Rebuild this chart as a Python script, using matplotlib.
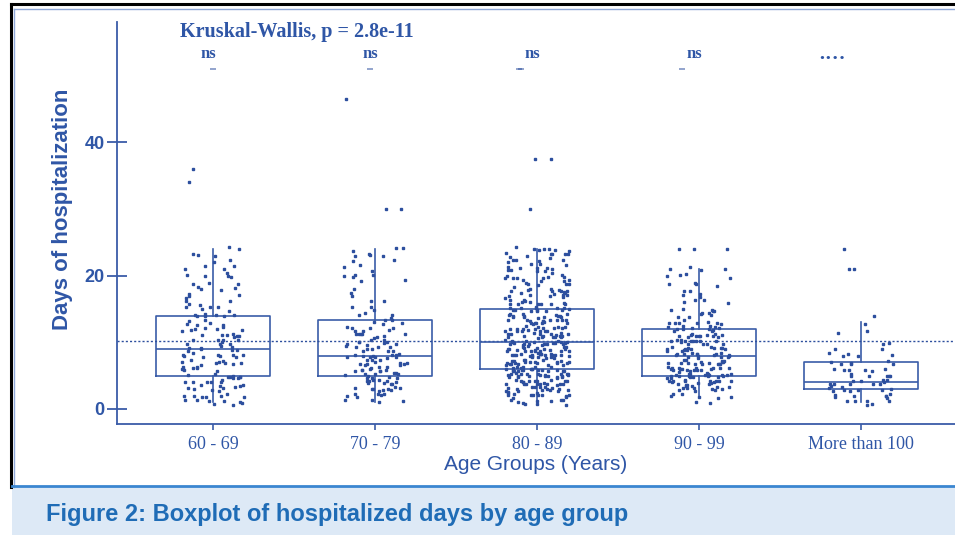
import matplotlib
matplotlib.use("Agg")
import matplotlib.pyplot as plt
import numpy as np
from matplotlib.patches import Rectangle
from matplotlib.lines import Line2D

# --- data ---
groups = ["60 - 69", "70 - 79", "80 - 89", "90 - 99", "More than 100"]

# box statistics per group
q1 = [5, 5, 6, 5, 3]
median = [9, 8, 10, 8, 4]
q3 = [14, 13.3, 15, 12, 7]
whisker_lo = [1, 1, 1, 2, 1]
whisker_hi = [24, 24, 24, 21, 13]

# values beyond the whiskers (shown among the jittered points)
outliers = [
    [34, 36],
    [30, 30, 46.5],
    [30, 37.5, 37.5],
    [24, 24, 24],
    [14, 21, 21, 24],
]
# faint marks cut off just under the significance labels
top_marks = [[51], [51], [51, 51], [51], []]

# jittered observations: counts of patients per number of days (1..24)
days = list(range(1, 25))
counts_60 = [8, 7, 8, 8, 9, 8, 9, 9, 8, 8, 7, 7, 6, 7, 5, 4, 4, 4, 3, 5, 4, 2, 3, 2]
counts_70 = [4, 6, 9, 10, 11, 10, 11, 11, 9, 9, 8, 7, 5, 4, 3, 2, 2, 1, 2, 4, 2, 3, 4, 3]
counts_80 = [10, 12, 16, 20, 22, 22, 22, 22, 20, 20, 18, 18, 16, 14, 14, 12, 10, 10, 9, 9, 9, 8, 8, 7]
counts_90 = [2, 6, 12, 16, 20, 18, 16, 16, 14, 14, 12, 12, 8, 6, 5, 4, 3, 3, 3, 4, 4, 0, 0, 0]
counts_100 = [6, 7, 9, 10, 6, 6, 6, 5, 2, 2, 1, 1, 1, 0, 0, 0, 0, 0, 0, 0, 0, 0, 0, 0]
all_counts = [counts_60, counts_70, counts_80, counts_90, counts_100]

mean_line = 10.2
test_label = "Kruskal-Wallis, p = 2.8e-11"
signif = ["ns", "ns", "ns", "ns", "····"]

blue = "#2d4f9e"
line_blue = "#3a5ca8"
txt_blue = "#2f56a6"

fig = plt.figure(figsize=(9.55, 5.35), dpi=100)
ax = fig.add_axes([0.1225, 0.2075, 0.8775, 0.7515])

stats = []
for i in range(len(groups)):
    stats.append(dict(q1=q1[i], med=median[i], q3=q3[i],
                      whislo=whisker_lo[i], whishi=whisker_hi[i],
                      fliers=[], label=groups[i]))

line_style = dict(color=line_blue, linewidth=1.2)
ax.bxp(stats, positions=range(len(groups)), widths=0.7, showcaps=False,
       showfliers=False, boxprops=line_style, whiskerprops=line_style,
       medianprops=line_style)

rng = np.random.default_rng(7)
for i, counts in enumerate(all_counts):
    ys = np.repeat(days, counts).astype(float)
    ys = ys + rng.uniform(-0.4, 0.4, len(ys))
    ys = np.concatenate([ys, outliers[i]])
    xs = i + rng.uniform(-0.2, 0.2, len(ys))
    ax.plot(xs, ys, "s", ms=2.1, color=blue, mec=blue, zorder=3)
    if top_marks[i]:
        tx = i + rng.uniform(-0.2, 0.05, len(top_marks[i]))
        ax.plot(tx, top_marks[i], "_", ms=4, mew=1.2, color=blue, alpha=0.6)

ax.axhline(mean_line, color=blue, linestyle=(0, (1.5, 1.5)), linewidth=1.0)

ax.set_xlim(-0.593, 4.58)
ax.set_ylim(-2.25, 58)

for s in ["top", "right"]:
    ax.spines[s].set_visible(False)
for s in ["left", "bottom"]:
    ax.spines[s].set_color(line_blue)
    ax.spines[s].set_linewidth(1.3)

ax.set_yticks([0, 20, 40])
ax.tick_params(axis="y", direction="inout", length=14, width=1.3, color=line_blue,
               labelcolor=txt_blue, pad=2)
for lab in ax.get_yticklabels():
    lab.set_fontfamily("Liberation Sans")
    lab.set_fontweight("bold")
    lab.set_fontsize(13)

ax.set_xticks(range(len(groups)))
ax.set_xticklabels(groups, fontfamily="Liberation Serif", fontsize=13)
ax.tick_params(axis="x", direction="out", length=4, width=1.2, color=line_blue,
               labelcolor=txt_blue, pad=5)

ax.set_ylabel("Days of hospitalization", fontfamily="Liberation Sans",
              fontweight="bold", fontsize=16, color=txt_blue)
ax.yaxis.set_label_coords(-0.052, 0.535)
ax.set_xlabel("Age Groups (Years)", fontfamily="Liberation Sans",
              fontsize=15, color=txt_blue, labelpad=1)

ax.text(-0.204, 56.5, test_label, fontfamily="Liberation Serif",
        fontweight="bold", fontsize=14.5, color=txt_blue, va="center")
for i, s in enumerate(signif):
    if i < 4:
        ax.text(i - 0.03, 53.2, s, fontfamily="Liberation Serif", fontweight="bold",
                fontsize=12, color=txt_blue, ha="center", va="center")
    else:
        ax.text(3.82, 52.5, s, fontfamily="Liberation Serif", fontweight="bold",
                fontsize=15, color=txt_blue, ha="center", va="center")

# page frame and caption box
fig.add_artist(Line2D([0.011, 0.011], [0.09, 0.992], color="black", lw=2.2,
                      transform=fig.transFigure))
fig.add_artist(Line2D([0.011, 1.0], [0.992, 0.992], color="black", lw=2.2,
                      transform=fig.transFigure))
fig.add_artist(Line2D([0.015, 1.0], [0.983, 0.983], color="#8fa8d8", lw=1.0,
                      transform=fig.transFigure))
fig.add_artist(Line2D([0.015, 0.015], [0.09, 0.983], color="#8fa8d8", lw=1.0,
                      transform=fig.transFigure))
fig.add_artist(Rectangle((0.013, 0.0), 0.987, 0.091, transform=fig.transFigure,
                         facecolor="#dde9f6", edgecolor="none"))
fig.add_artist(Line2D([0.013, 1.0], [0.091, 0.091], color="#3b86d0", lw=2.0,
                      transform=fig.transFigure))
fig.text(0.048, 0.039, "Figure 2: Boxplot of hospitalized days by age group",
         fontfamily="Liberation Sans", fontweight="bold", fontsize=17,
         color="#1f6cb6", va="center")

fig.savefig("out.png", dpi=100)
